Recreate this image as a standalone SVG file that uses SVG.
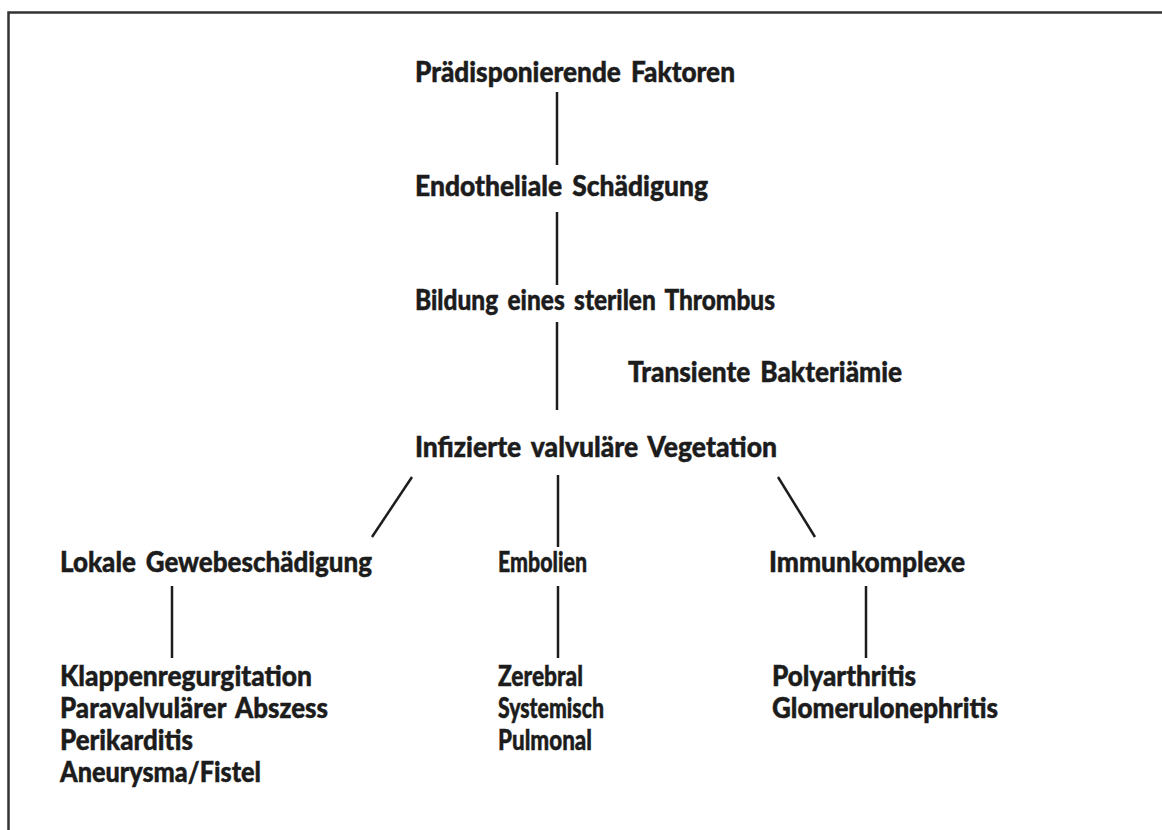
<svg xmlns="http://www.w3.org/2000/svg" width="1162" height="830" viewBox="0 0 1162 830">
<style>
text{font-family:Lato,"Liberation Sans",Arial,sans-serif;font-weight:900;font-size:27.5px;fill:#1c1c1c;stroke:#1c1c1c;stroke-width:0.45;word-spacing:4px}
.c{stroke:#1c1c1c;stroke-width:2.5;fill:none;stroke-linecap:butt}
</style>
<rect width="1162" height="830" fill="#fff"/>
<path d="M8.5,840 V12.5 H1175" fill="none" stroke="#333" stroke-width="2.5"/>
<g id="connectors" class="c">
<line x1="557" y1="92" x2="557" y2="165"/>
<line x1="557" y1="212" x2="557" y2="285"/>
<line x1="557" y1="322" x2="557" y2="410"/>
<line x1="412" y1="477" x2="372" y2="537"/>
<line x1="558" y1="475" x2="558" y2="547"/>
<line x1="778" y1="477" x2="815" y2="537"/>
<line x1="172" y1="586" x2="172" y2="658"/>
<line x1="558" y1="586" x2="558" y2="658"/>
<line x1="866" y1="586" x2="866" y2="658"/>
</g>
<g id="n1"><text x="415" y="82" textLength="320" lengthAdjust="spacingAndGlyphs">Prädisponierende Faktoren</text></g>
<g id="n2"><text x="415" y="196" textLength="293" lengthAdjust="spacingAndGlyphs">Endotheliale Schädigung</text></g>
<g id="n3"><text x="415" y="310" textLength="360" lengthAdjust="spacingAndGlyphs">Bildung eines sterilen Thrombus</text></g>
<g id="n4"><text x="628" y="382" textLength="274" lengthAdjust="spacingAndGlyphs">Transiente Bakteriämie</text></g>
<g id="n5"><text x="415" y="457" textLength="362" lengthAdjust="spacingAndGlyphs">Infizierte valvuläre Vegetation</text></g>
<g id="n6"><text x="60" y="572" textLength="312" lengthAdjust="spacingAndGlyphs">Lokale Gewebeschädigung</text></g>
<g id="n7"><text x="498" y="572" textLength="89" lengthAdjust="spacingAndGlyphs">Embolien</text></g>
<g id="n8"><text x="769" y="572" textLength="196" lengthAdjust="spacingAndGlyphs">Immunkomplexe</text></g>
<g id="n9">
<text x="60" y="686" textLength="252" lengthAdjust="spacingAndGlyphs">Klappenregurgitation</text>
<text x="60" y="718" textLength="268" lengthAdjust="spacingAndGlyphs">Paravalvulärer Abszess</text>
<text x="60" y="750" textLength="133" lengthAdjust="spacingAndGlyphs">Perikarditis</text>
<text x="60" y="782" textLength="201" lengthAdjust="spacingAndGlyphs">Aneurysma/Fistel</text>
</g>
<g id="n10">
<text x="498" y="686" textLength="85" lengthAdjust="spacingAndGlyphs">Zerebral</text>
<text x="498" y="718" textLength="106" lengthAdjust="spacingAndGlyphs">Systemisch</text>
<text x="498" y="750" textLength="94" lengthAdjust="spacingAndGlyphs">Pulmonal</text>
</g>
<g id="n11">
<text x="772" y="686" textLength="144" lengthAdjust="spacingAndGlyphs">Polyarthritis</text>
<text x="772" y="718" textLength="226" lengthAdjust="spacingAndGlyphs">Glomerulonephritis</text>
</g>
</svg>
